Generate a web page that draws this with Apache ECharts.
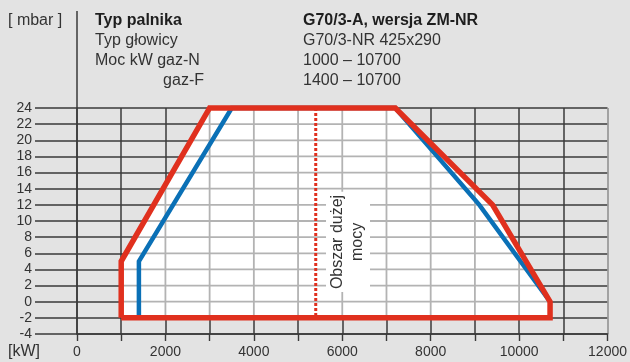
<!DOCTYPE html>
<html><head><meta charset="utf-8">
<script src="https://cdn.jsdelivr.net/npm/echarts@6/dist/echarts.min.js"></script>
<style>html,body{margin:0;padding:0;background:#e3e3e3}#c{width:630px;height:362px}</style>
</head><body><div id="c"></div>
<script>
// ---- data ----
const xGridValues = [1000,2000,3000,4000,5000,6000,7000,8000,9000,10000,11000,12000];
const yGridValues = [-4,-2,0,2,4,6,8,10,12,14,16,18,20,22,24];
const xLabelValues = [0,2000,4000,6000,8000,10000,12000];
// outer working field (red), gas F? closed polygon [kW, mbar]
const redEnvelope = [[1000,-2],[1000,5],[3000,24],[7200,24],[9400,12],[10700,0],[10700,-2],[1000,-2]];
// inner working field (blue)
const blueEnvelope = [[1400,-2],[1400,5],[3500,24],[7200,24],[9100,12],[10700,0]];
// high power region boundary (dotted)
const highPowerBoundary = [[5400,24],[5400,-2]];
const highPowerLabel = 'Obszar dużej\nmocy';
const highPowerLabelAt = [6130, 7.4];

const FONT = 'Liberation Sans, Arial, sans-serif';
const DARK = '#3a3a3a';
const chart = echarts.init(document.getElementById('c'));

const option = {
  backgroundColor: '#e3e3e3',
  animation: false,
  grid: {left: 77, right: 17, top: 108, bottom: 28, containLabel: false},
  xAxis: {
    type: 'value', min: 0, max: 12000, interval: 1000,
    axisLine: {onZero: false, lineStyle: {color: DARK, width: 1.5}},
    axisTick: {length: 7, lineStyle: {color: DARK, width: 1.4}},
    axisLabel: {margin: 11, fontSize: 14, color: '#333', fontFamily: FONT,
      showMaxLabel: true,
      formatter: v => xLabelValues.includes(v) ? String(v) : ''},
    splitLine: {show: true, lineStyle: {color: [DARK,DARK,DARK,DARK,DARK,DARK,DARK,DARK,DARK,DARK,DARK,DARK,'#8c8c8c'], width: 1.5}}
  },
  yAxis: {
    type: 'value', min: -4, max: 24, interval: 2,
    axisLine: {show: true, onZero: false, lineStyle: {color: DARK, width: 1.5}},
    axisTick: {show: true, length: 42, lineStyle: {color: DARK, width: 1.5}},
    axisLabel: {margin: 45, fontSize: 14, color: '#333', fontFamily: FONT},
    splitLine: {show: true, lineStyle: {color: DARK, width: 1.5}}
  },
  series: [
    {
      type: 'custom', z: 1, silent: true,
      data: [0],
      renderItem: function (params, api) {
        const pts = redEnvelope.map(p => api.coord(p));
        const lines = [];
        xGridValues.forEach(v => {
          const a = api.coord([v, yGridValues[0]]), b = api.coord([v, yGridValues[yGridValues.length - 1]]);
          lines.push({type: 'line', shape: {x1: a[0], y1: a[1], x2: b[0], y2: b[1]}, style: {stroke: '#b3b3b3', lineWidth: 1.8}});
        });
        yGridValues.forEach(v => {
          const a = api.coord([0, v]), b = api.coord([12000, v]);
          lines.push({type: 'line', shape: {x1: a[0], y1: a[1], x2: b[0], y2: b[1]}, style: {stroke: '#b3b3b3', lineWidth: 1.8}});
        });
        const lp = api.coord(highPowerLabelAt);
        return {type: 'group', children: [
          {type: 'polygon', shape: {points: pts}, style: {fill: '#ffffff'}},
          {type: 'group', clipPath: {type: 'polygon', shape: {points: pts}}, children: lines},
          {type: 'text', x: lp[0], y: lp[1], rotation: Math.PI / 2,
           style: {text: highPowerLabel, fontSize: 16, fontFamily: FONT, fill: '#333', align: 'center', verticalAlign: 'middle',
                   lineHeight: 20, backgroundColor: '#ffffff', padding: [2, 3]}}
        ]};
      }
    },
    {type: 'line', z: 2, data: blueEnvelope, symbol: 'none', clip: false, silent: true,
     lineStyle: {color: '#0a70b6', width: 4.5, join: 'miter'}},
    {type: 'line', z: 3, data: redEnvelope, symbol: 'none', clip: false, silent: true,
     lineStyle: {color: '#e0301e', width: 5.5, join: 'miter'}},
    {type: 'line', z: 3, data: highPowerBoundary, symbol: 'none', clip: false, silent: true,
     lineStyle: {color: '#e0301e', width: 3, type: [3, 2]}}
  ],
  graphic: []
};
chart.setOption(option);

const x0 = chart.convertToPixel({gridIndex: 0}, [0, 24]);
const txt = (x, y, text, bold, align) => ({type: 'text', x: x, y: y, silent: true,
  style: {text: text, fontSize: 16, fontFamily: FONT, fontWeight: bold ? 'bold' : 'normal',
          fill: bold ? '#1e1e1e' : '#333', align: align || 'left', verticalAlign: 'middle'}});
chart.setOption({graphic: [
  {type: 'line', silent: true, shape: {x1: x0[0], y1: 11, x2: x0[0], y2: x0[1]}, style: {stroke: DARK, lineWidth: 1.5}},
  txt(8, 21, '[ mbar ]'),
  txt(8, 352, '[kW]', false),
  txt(95, 21, 'Typ palnika', true),
  txt(95, 41, 'Typ głowicy'),
  txt(95, 61, 'Moc kW gaz-N'),
  txt(204, 81, 'gaz-F', false, 'right'),
  txt(303, 21, 'G70/3-A, wersja ZM-NR', true),
  txt(303, 41, 'G70/3-NR 425x290'),
  txt(303, 61, '1000 – 10700'),
  txt(303, 81, '1400 – 10700')
]});
</script></body></html>
